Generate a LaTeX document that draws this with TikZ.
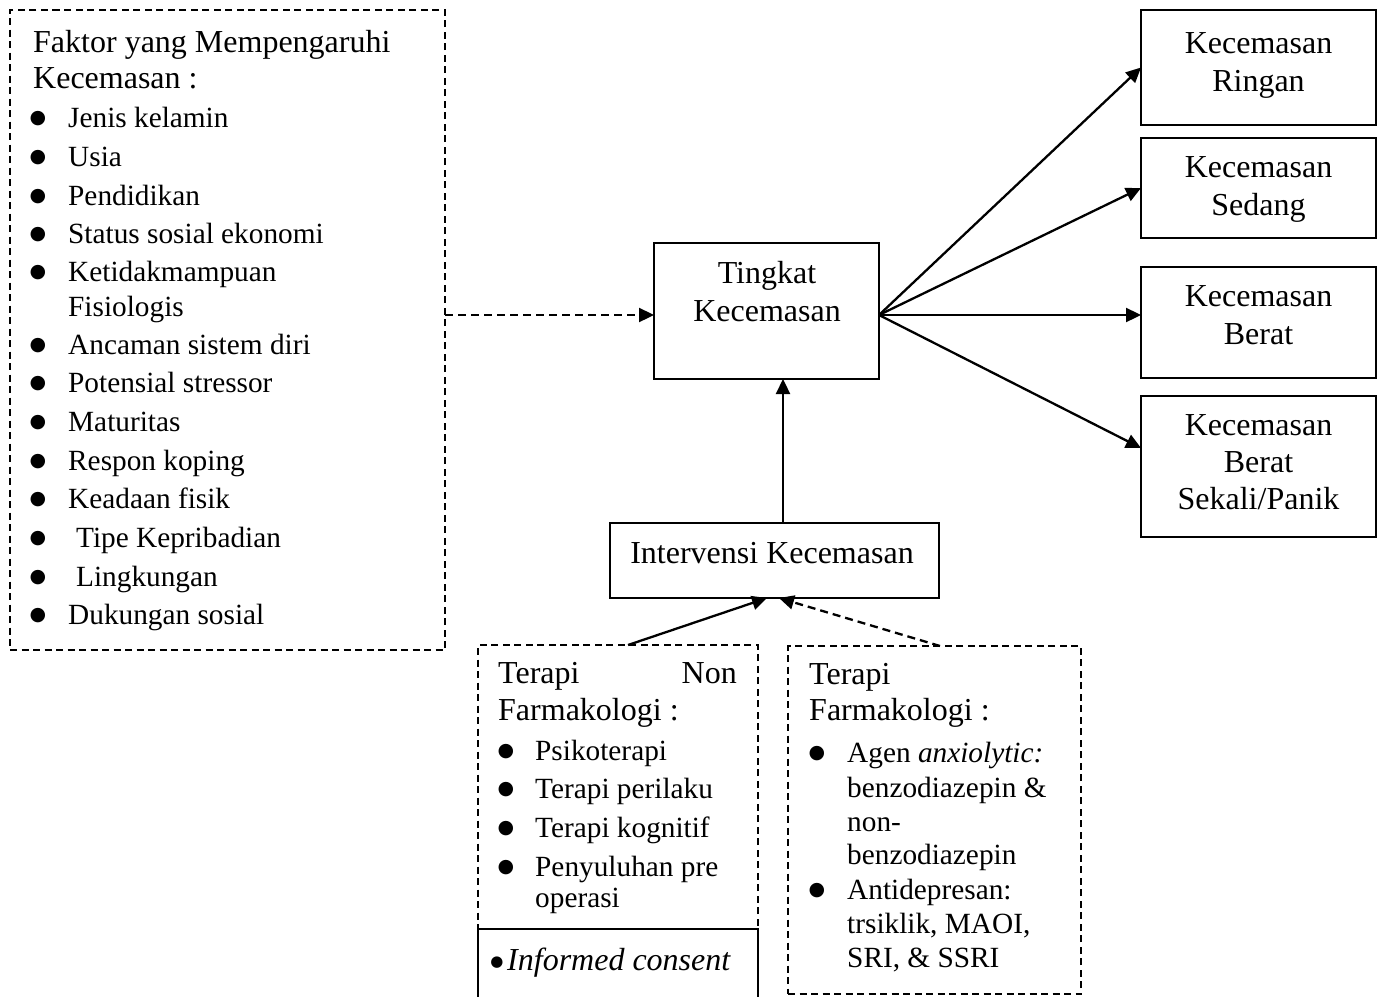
\documentclass[tikz,border=0pt]{standalone}
\usepackage{fontspec}
\setmainfont{Liberation Serif}
\newfontfamily\bulfont{DejaVu Sans}
\usetikzlibrary{arrows.meta}
\tikzset{
 box/.style={draw, line width=1.8pt, anchor=north west, inner sep=0pt, outer sep=0pt},
 dbox/.style={box, line width=1.5pt, dash pattern=on 7pt off 4.5pt},
 hd/.style={anchor=base west, inner sep=0pt, font=\fontsize{32}{38}\selectfont},
 hde/.style={anchor=base east, inner sep=0pt, font=\fontsize{32}{38}\selectfont},
 hdc/.style={anchor=base, inner sep=0pt, font=\fontsize{32}{38}\selectfont},
 li/.style={anchor=base west, inner sep=0pt, font=\fontsize{29.3}{38}\selectfont},
 bul/.style={anchor=base, inner sep=0pt, yshift=3.5pt, font=\bulfont\fontsize{19}{20}\selectfont},
 arr/.style={line width=2.3pt, -{Triangle[length=15pt,width=14pt]}},
 darr/.style={arr, dash pattern=on 8pt off 5pt},
}
\begin{document}
\begin{tikzpicture}[x=1pt,y=-1pt]
\useasboundingbox[fill=white] (0,0) rectangle (1381,996);
\clip (0,0) rectangle (1381,996);
% boxes
\node[dbox, minimum width=435pt, minimum height=640pt] (fk) at (10,10) {};
\node[box, minimum width=225pt, minimum height=136pt] (tk) at (654,243) {};
\node[box, minimum width=235pt, minimum height=115pt] (r1) at (1141,10) {};
\node[box, minimum width=235pt, minimum height=100pt] (r2) at (1141,138) {};
\node[box, minimum width=235pt, minimum height=111pt] (r3) at (1141,267) {};
\node[box, minimum width=235pt, minimum height=141pt] (r4) at (1141,396) {};
\node[box, minimum width=329pt, minimum height=75pt] (iv) at (610,523) {};
\node[dbox, minimum width=280pt, minimum height=380pt] (nf) at (478,645) {};
\node[box, fill=white, minimum width=280pt, minimum height=100pt] (ic) at (478,929) {};
\node[dbox, minimum width=293pt, minimum height=348pt] (ph) at (788,646) {};
% helper coordinates
\coordinate (ya) at (0,315);
\coordinate (yb) at (0,448);
\coordinate (xa) at (783,0);
\coordinate (xb) at (628,0);
\coordinate (xc) at (767,0);
\coordinate (xd) at (940,0);
\coordinate (xe) at (779,0);
% connectors
\draw[darr] (fk.east |- ya) -- (tk.west |- ya);
\draw[arr] (tk.east |- ya) -- (r1.west);
\draw[arr] (tk.east |- ya) -- (r2.west);
\draw[arr] (tk.east |- ya) -- (r3.west |- ya);
\draw[arr] (tk.east |- ya) -- (r4.west |- yb);
\draw[arr] (iv.north -| xa) -- (tk.south -| xa);
\draw[arr] (nf.north -| xb) -- (iv.south -| xc);
\draw[darr] (ph.north -| xd) -- (iv.south -| xe);
% left box text
\node[hd] (f0) at (33,52) {Faktor yang Mempengaruhi};
\node[hd] (f00) at (33,88) {Kecemasan :};
\foreach \yy/\tt/\nm in {127/Jenis kelamin/a,166/Usia/b,205/Pendidikan/c,243/Status sosial ekonomi/d,281/Ketidakmampuan/e,354/Ancaman sistem diri/g,392/Potensial stressor/h,431/Maturitas/i,470/Respon koping/j,508/Keadaan fisik/k,624/Dukungan sosial/n}{
  \node[bul] (fb\nm) at (38,\yy) {●};
  \node[li] (ft\nm) at (68,\yy) {\tt};
}
\node[li] (ftf) at (68,316) {Fisiologis};
\node[bul] (fbl) at (38,547) {●};
\node[li] (ftl) at (76,547) {Tipe Kepribadian};
\node[bul] (fbm) at (38,586) {●};
\node[li] (ftm) at (76,586) {Lingkungan};
% Tingkat
\node[hdc] (tk1) at (767,283) {Tingkat};
\node[hdc] (tk2) at (767,321) {Kecemasan};
% right boxes
\node[hdc] (r1a) at (1258.5,53) {Kecemasan};
\node[hdc] (r1b) at (1258.5,91) {Ringan};
\node[hdc] (r2a) at (1258.5,177) {Kecemasan};
\node[hdc] (r2b) at (1258.5,215) {Sedang};
\node[hdc] (r3a) at (1258.5,306) {Kecemasan};
\node[hdc] (r3b) at (1258.5,344) {Berat};
\node[hdc] (r4a) at (1258.5,435) {Kecemasan};
\node[hdc] (r4b) at (1258.5,472) {Berat};
\node[hdc] (r4c) at (1258.5,509) {Sekali/Panik};
% intervensi
\node[hdc] (iv1) at (772,563) {Intervensi Kecemasan};
% non farmakologi
\node[hd] (nf1) at (498,683) {Terapi};
\node[hde] (nf2) at (737,683) {Non};
\node[hd] (nf3) at (498,720) {Farmakologi :};
\foreach \yy/\tt/\nm in {760/Psikoterapi/a,798/Terapi perilaku/b,837/Terapi kognitif/c,876/Penyuluhan pre/d}{
  \node[bul] (nb\nm) at (506,\yy) {●};
  \node[li] (nt\nm) at (535,\yy) {\tt};
}
\node[li] (nte) at (535,907) {operasi};
\node[bul, font=\bulfont\fontsize{15}{20}\selectfont] (icb) at (497,970) {●};
\node[hd] (ict) at (507,970) {\textit{Informed consent}};
% farmakologi
\node[hd] (ph1) at (809,684) {Terapi};
\node[hd] (ph2) at (809,720) {Farmakologi :};
\node[bul] (pba) at (817,762) {●};
\node[li] (pta) at (847,762) {Agen \textit{anxiolytic:}};
\node[li] (ptb) at (847,797) {benzodiazepin \&};
\node[li] (ptc) at (847,831) {non-};
\node[li] (ptd) at (847,864) {benzodiazepin};
\node[bul] (pbe) at (817,899) {●};
\node[li] (pte) at (847,899) {Antidepresan:};
\node[li] (ptf) at (847,933) {trsiklik, MAOI,};
\node[li] (ptg) at (847,967) {SRI, \& SSRI};
\end{tikzpicture}
\end{document}
